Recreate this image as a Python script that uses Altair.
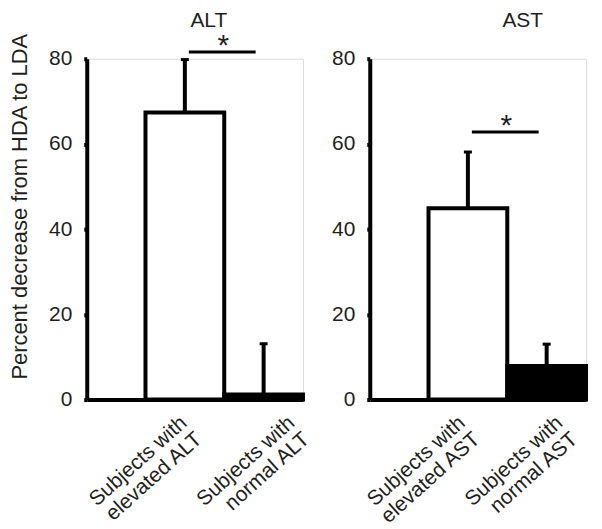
import altair as alt
import pandas as pd

FONT = "Liberation Sans"
TXT = "#231f20"

panels = ["ALT", "AST"]
labels_alt = ["Subjects with|elevated ALT", "Subjects with|normal ALT"]
labels_ast = ["Subjects with|elevated AST", "Subjects with|normal AST"]
groups = ["elevated", "normal"]
means_alt = [67.4, 1.2]
errs_alt = [12.4, 11.9]
means_ast = [44.9, 7.9]
errs_ast = [13.2, 5.1]
sig_alt = 81.6
sig_ast = 62.8
y_ticks = [0, 20, 40, 60, 80]


def x_axis(value, offset, domain):
    return alt.Axis(
        values=[value], orient="bottom", title=None, ticks=False,
        domain=domain, domainWidth=4, domainColor="black",
        labelAngle=-42, labelAlign="right", labelBaseline="top",
        labelExpr="split(datum.label, '|')", labelLineHeight=22,
        labelFont=FONT, labelFontSize=21, labelColor=TXT, labelPadding=12,
        labelOffset=offset,
    )


def panel(name, labels, means, errs, sig, show_title, dx, offset, lab_off):
    df = pd.DataFrame({
        "label": labels,
        "group": groups,
        "mean": means,
        "top": [m + e for m, e in zip(means, errs)],
    })
    sig_df = pd.DataFrame({"a": [labels[0]], "b": [labels[1]], "y": [sig], "star": ["*"]})

    def xs():
        return alt.Scale(type="band", domain=labels, paddingInner=0, paddingOuter=0.373, align=1)

    yscale = alt.Scale(domain=[0, 80], nice=False)
    yaxis_kw = dict(
        values=y_ticks, grid=False, domainWidth=4, domainColor="black",
        tickSize=3, tickWidth=4, tickColor="black",
        labelFont=FONT, labelFontSize=21, labelColor=TXT, labelPadding=12,
    )
    if show_title:
        yaxis = alt.Axis(
            title="Percent decrease from HDA to LDA", titleFont=FONT,
            titleFontSize=22, titleFontWeight="normal", titleColor=TXT,
            titlePadding=17, titleY=148, **yaxis_kw,
        )
    else:
        yaxis = alt.Axis(title=None, **yaxis_kw)

    bars = alt.Chart(df).mark_bar(stroke="black", strokeWidth=4).encode(
        x=alt.X("label:N", scale=xs(), axis=x_axis(labels[0], lab_off[0], True), sort=labels),
        y=alt.Y("mean:Q", scale=yscale, axis=yaxis),
        fill=alt.Fill("group:N", scale=alt.Scale(domain=groups, range=["white", "black"]), legend=None),
    )
    err = alt.Chart(df).mark_rule(strokeWidth=4, color="black").encode(
        x=alt.X("label:N", scale=xs(), axis=x_axis(labels[1], lab_off[1], False), sort=labels),
        y="mean:Q",
        y2="top:Q",
    )
    cap = alt.Chart(df).mark_tick(size=8, thickness=3, color="black", opacity=1).encode(
        x=alt.X("label:N", scale=xs(), axis=None, sort=labels),
        y="top:Q",
    )
    sig_line = alt.Chart(sig_df).mark_rule(strokeWidth=3, color="black", xOffset=4, x2Offset=-8).encode(
        x=alt.X("a:N", scale=xs(), axis=None, sort=labels),
        x2="b:N",
        y="y:Q",
    )
    star = alt.Chart(sig_df).mark_text(font=FONT, fontSize=30, color=TXT, baseline="alphabetic", dy=3, dx=-1).encode(
        x=alt.X("a:N", scale=xs(), axis=None, sort=labels, bandPosition=1),
        y="y:Q",
        text="star:N",
    )
    return alt.layer(bars, err, cap, sig_line, star).resolve_scale(x="independent").resolve_axis(x="independent").properties(
        width=217, height=342,
        title=alt.TitleParams(name, font=FONT, fontSize=21, fontWeight="normal", color=TXT, dx=dx, offset=offset),
    )


left = panel("ALT", labels_alt, means_alt, errs_alt, sig_alt, True, 14, 0, [-8, 21])
right = panel("AST", labels_ast, means_ast, errs_ast, sig_ast, False, 45, 17, [-13, 6])

chart = alt.hconcat(left, right, spacing=67, bounds="flush").properties(
    padding={"left": 0, "top": 0, "right": 5, "bottom": 0}
).configure_view(stroke=None).configure(background="white")

chart.save("out.html", embed_options={"renderer": "svg", "actions": False})
